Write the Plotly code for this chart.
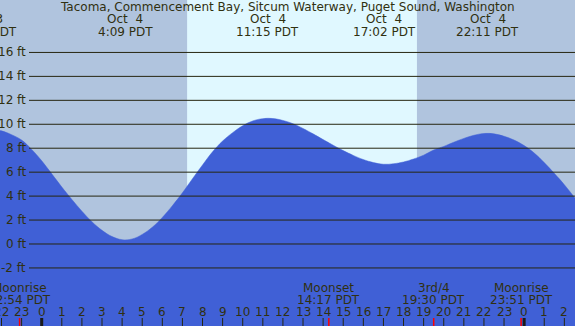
import plotly.graph_objects as go

# ---- data ----
hours = [-3, -2.5, -2, -1.5, -1, -0.5, 0, 0.5, 1, 1.5, 2, 2.5, 3, 3.5, 4, 4.5, 5, 5.5,
         6, 6.5, 7, 7.5, 8, 8.5, 9, 9.5, 10, 10.5, 11, 11.5, 12, 12.5, 13, 13.5, 14,
         14.5, 15, 15.5, 16, 16.5, 17, 17.5, 18, 18.5, 19, 19.5, 20, 20.5, 21, 21.5,
         22, 22.5, 23, 23.5, 24, 24.5, 25, 25.5, 26, 26.5, 27]
heights = [9.58, 9.57, 9.45, 9.13, 8.68, 7.9, 6.95, 5.86, 4.76, 3.72, 2.74, 1.86, 1.14,
           0.62, 0.36, 0.42, 0.8, 1.4, 2.22, 3.2, 4.27, 5.45, 6.6, 7.7, 8.6, 9.3,
           9.88, 10.28, 10.47, 10.48, 10.32, 10.05, 9.65, 9.2, 8.72, 8.25, 7.8, 7.4,
           7.05, 6.8, 6.66, 6.7, 6.85, 7.1, 7.42, 7.85, 8.15, 8.5, 8.82, 9.08, 9.23,
           9.2, 9.0, 8.68, 8.22, 7.6, 6.8, 5.9, 4.95, 3.9, 2.85]

tide_times = [-2.82, 4.15, 11.25, 17.03, 22.18]
tide_dates = ["Oct  3", "Oct  4", "Oct  4", "Oct  4", "Oct  4"]
tide_labels = ["21:11 PDT", "4:09 PDT", "11:15 PDT", "17:02 PDT", "22:11 PDT"]

moon_times = [-1.1, 14.283, 19.5, 23.85]
moon_names = ["Moonrise", "Moonset", "3rd/4", "Moonrise"]
moon_labels = ["22:54 PDT", "14:17 PDT", "19:30 PDT", "23:51 PDT"]

sunrise, sunset = 7.233, 18.667
hour_ticks = list(range(-2, 27))
hour_labels = [str(h % 24) for h in hour_ticks]
midnights = [0, 24]
ft_ticks = [16, 14, 12, 10, 8, 6, 4, 2, 0, -2]
ft_labels = [f"{v} ft" for v in ft_ticks]

title = "Tacoma, Commencement Bay, Sitcum Waterway, Puget Sound, Washington"

# ---- styling ----
W, H = 575, 326
XR = [-2.075, 26.53]
YR = [-6.85, 20.38]
FONT = "DejaVu Sans"
TXT = "#303010"
GRID = "#262610"
BLUE = "rgb(64,96,214)"
NIGHT = "rgb(176,196,222)"
DAY = "rgb(224,248,255)"

def xp(t):
    return (t - XR[0]) / (XR[1] - XR[0])

def yp(pix):
    return 1 - pix / H

fig = go.Figure()
fig.add_trace(go.Scatter(x=[hours[0], hours[-1]], y=[YR[0] - 5, YR[0] - 5],
                         mode="lines", line=dict(width=0), hoverinfo="skip",
                         showlegend=False))
fig.add_trace(go.Scatter(x=hours, y=heights, mode="lines",
                         line=dict(color=BLUE, width=0.5, shape="spline", smoothing=1.1),
                         fill="tonexty", fillcolor=BLUE, showlegend=False))

shapes = []
shapes.append(dict(type="rect", xref="x", yref="paper", x0=sunrise, x1=sunset,
                   y0=0, y1=1, fillcolor=DAY, line=dict(width=0), layer="below"))
for v in ft_ticks:
    shapes.append(dict(type="line", xref="paper", yref="y", x0=29 / W, x1=1,
                       y0=v, y1=v, line=dict(color=GRID, width=1), layer="above"))
for h in hour_ticks:
    shapes.append(dict(type="line", xref="x", yref="paper", x0=h, x1=h,
                       y0=0, y1=8 / H, line=dict(color=GRID, width=1), layer="above"))
for h in midnights:
    shapes.append(dict(type="line", xref="x", yref="paper", x0=h, x1=h,
                       y0=0, y1=8 / H, line=dict(color="#1a1a1a", width=3), layer="above"))
for t in moon_times:
    shapes.append(dict(type="line", xref="x", yref="paper", x0=t, x1=t,
                       y0=0, y1=8 / H, line=dict(color="red", width=1.5), layer="above"))

ann = []
f = dict(family=FONT, size=12, color=TXT)
ann.append(dict(text=title, xref="paper", yref="paper", x=0.5, y=yp(7),
                showarrow=False, font=f, xanchor="center", yanchor="middle"))
for t, d, l in zip(tide_times, tide_dates, tide_labels):
    ann.append(dict(text=d, xref="paper", yref="paper", x=xp(t), y=yp(19.5),
                    showarrow=False, font=f, xanchor="center", yanchor="middle"))
    ann.append(dict(text=l, xref="paper", yref="paper", x=xp(t), y=yp(32),
                    showarrow=False, font=f, xanchor="center", yanchor="middle"))
for t, n, l in zip(moon_times, moon_names, moon_labels):
    ann.append(dict(text=n, xref="paper", yref="paper", x=xp(t), y=yp(287.5),
                    showarrow=False, font=f, xanchor="center", yanchor="middle"))
    ann.append(dict(text=l, xref="paper", yref="paper", x=xp(t), y=yp(299.5),
                    showarrow=False, font=f, xanchor="center", yanchor="middle"))
for h, l in zip(hour_ticks, hour_labels):
    ann.append(dict(text=l, xref="paper", yref="paper", x=xp(h), y=yp(311.5),
                    showarrow=False, font=f, xanchor="center", yanchor="middle"))
for v, l in zip(ft_ticks, ft_labels):
    ann.append(dict(text=l, xref="paper", yref="y", x=27.5 / W, y=v,
                    showarrow=False, font=f, xanchor="right", yanchor="middle"))

fig.update_layout(
    width=W, height=H, margin=dict(l=0, r=0, t=0, b=0),
    paper_bgcolor=NIGHT, plot_bgcolor=NIGHT,
    xaxis=dict(range=XR, visible=False, fixedrange=True),
    yaxis=dict(range=YR, visible=False, fixedrange=True),
    shapes=shapes, annotations=ann, showlegend=False,
)
fig.write_html("out.html", config={"displayModeBar": False},
               post_script="document.body.style.margin='0px';document.body.style.overflow='hidden';")
